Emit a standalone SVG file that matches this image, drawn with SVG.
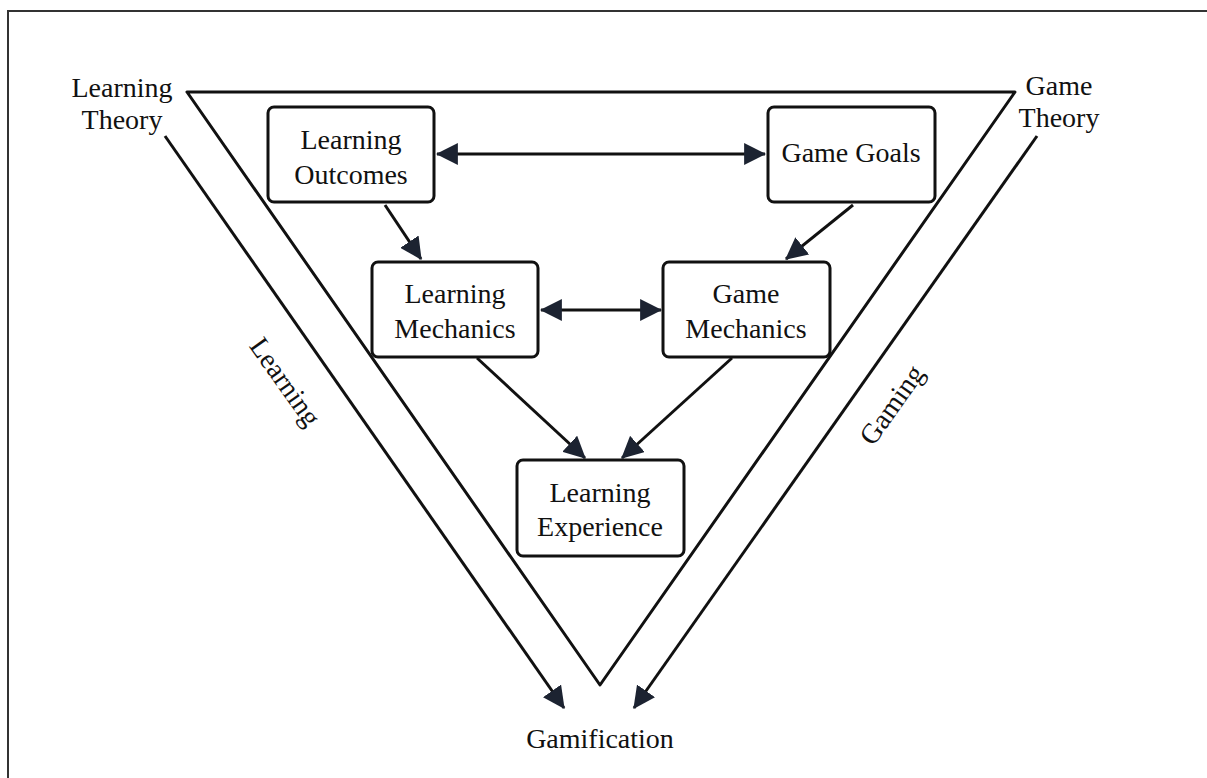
<svg xmlns="http://www.w3.org/2000/svg" width="1207" height="778" viewBox="0 0 1207 778">
<style>
  text { font-family: "Liberation Serif", "Times New Roman", serif; font-size: 28px; fill: #111; text-anchor: middle; }
  .box { fill: #fff; stroke: #111; stroke-width: 3; }
  .ln { fill: none; stroke: #111; stroke-width: 3; }
</style>
<defs>
  <marker id="ah" markerUnits="userSpaceOnUse" markerWidth="22" markerHeight="22" refX="19" refY="10" orient="auto-start-reverse" viewBox="0 0 20 20">
    <path d="M0,0 L20,10 L0,20 Z" fill="#1c2331"/>
  </marker>
</defs>
<rect width="1207" height="778" fill="#fff"/>
<path d="M8,778 V11 H1207" fill="none" stroke="#333" stroke-width="2"/>

<g id="triangle">
  <path class="ln" stroke-linejoin="round" d="M187,92 H1015 L600,685 Z"/>
</g>

<g id="connectors">
  <line class="ln" x1="165" y1="136" x2="564" y2="708" marker-end="url(#ah)"/>
  <line class="ln" x1="1037" y1="136" x2="634" y2="708" marker-end="url(#ah)"/>
  <line class="ln" x1="437" y1="154" x2="765" y2="154" marker-start="url(#ah)" marker-end="url(#ah)"/>
  <line class="ln" x1="541" y1="310" x2="661" y2="310" marker-start="url(#ah)" marker-end="url(#ah)"/>
  <line class="ln" x1="385" y1="205" x2="421" y2="259" marker-end="url(#ah)"/>
  <line class="ln" x1="853" y1="205" x2="786" y2="259" marker-end="url(#ah)"/>
  <line class="ln" x1="477" y1="358" x2="585" y2="458" marker-end="url(#ah)"/>
  <line class="ln" x1="732" y1="358" x2="622" y2="458" marker-end="url(#ah)"/>
</g>

<g id="learning-theory">
  <text x="122" y="97">Learning</text>
  <text x="122" y="129">Theory</text>
</g>
<g id="game-theory">
  <text x="1059" y="95">Game</text>
  <text x="1059" y="127">Theory</text>
</g>

<g id="learning-outcomes">
  <rect class="box" x="268" y="107" width="166" height="95" rx="6"/>
  <text x="351" y="149">Learning</text>
  <text x="351" y="184">Outcomes</text>
</g>
<g id="game-goals">
  <rect class="box" x="768" y="107" width="167" height="95" rx="6"/>
  <text x="851" y="162">Game Goals</text>
</g>
<g id="learning-mechanics">
  <rect class="box" x="372" y="262" width="166" height="95" rx="6"/>
  <text x="455" y="303">Learning</text>
  <text x="455" y="338">Mechanics</text>
</g>
<g id="game-mechanics">
  <rect class="box" x="663" y="262" width="167" height="95" rx="6"/>
  <text x="746" y="303">Game</text>
  <text x="746" y="338">Mechanics</text>
</g>
<g id="learning-experience">
  <rect class="box" x="517" y="460" width="167" height="96" rx="6"/>
  <text x="600" y="502">Learning</text>
  <text x="600" y="536">Experience</text>
</g>

<g id="label-learning">
  <text transform="translate(285,382) rotate(54.7)" y="9">Learning</text>
</g>
<g id="label-gaming">
  <text transform="translate(892,405) rotate(-54.7)" y="9">Gaming</text>
</g>
<g id="gamification">
  <text x="600" y="748">Gamification</text>
</g>
</svg>
